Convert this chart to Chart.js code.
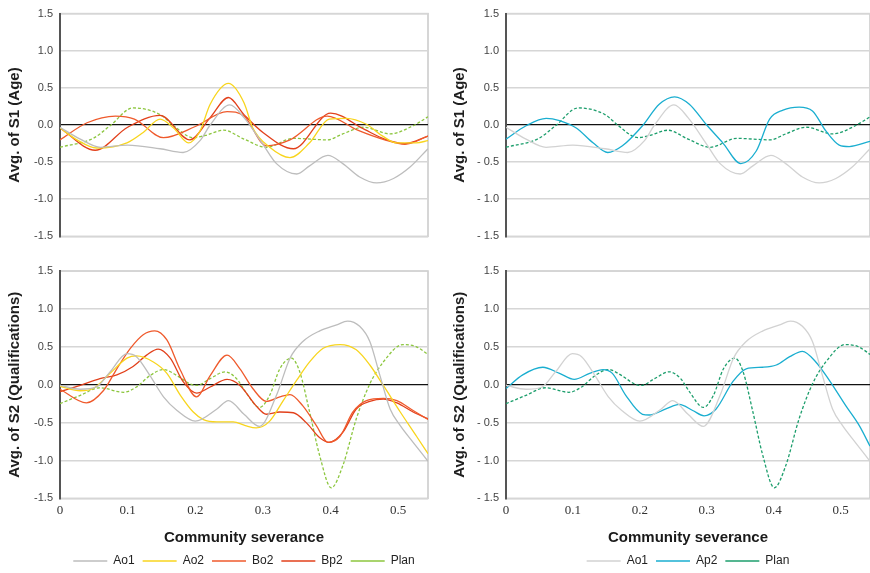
<!DOCTYPE html>
<html>
<head>
<meta charset="utf-8">
<script src="https://cdn.jsdelivr.net/npm/chart.js@4.4.0/dist/chart.umd.min.js"></script>
<style>
body { margin: 0; background: #fff; }
#page { position: relative; width: 870px; height: 573px; overflow: hidden; }
.box { position: absolute; }
</style>
</head>
<body>
<div id="page">
  <div class="box" style="left:0;top:0;width:435px;height:250px"><canvas id="ageLeft"></canvas></div>
  <div class="box" style="left:435px;top:0;width:435px;height:250px"><canvas id="ageRight"></canvas></div>
  <div class="box" style="left:0;top:250px;width:435px;height:323px"><canvas id="qualLeft"></canvas></div>
  <div class="box" style="left:435px;top:250px;width:435px;height:323px"><canvas id="qualRight"></canvas></div>
</div>
<script>
// x = community severance, y = average score
const xMax = 0.544;
const yTicks = [-1.5, -1.0, -0.5, 0.0, 0.5, 1.0, 1.5];

// S1 (Age)
const ageAo1X = [0, 0.03, 0.06, 0.10, 0.148, 0.182, 0.207, 0.222, 0.251, 0.272, 0.30, 0.32, 0.35, 0.369, 0.396, 0.418, 0.443, 0.468, 0.493, 0.517, 0.544];
const ageAo1Y = [-0.03, -0.19, -0.30, -0.27, -0.32, -0.37, -0.21, 0.0, 0.27, 0.10, -0.26, -0.52, -0.66, -0.55, -0.41, -0.52, -0.70, -0.78, -0.72, -0.57, -0.32];
const ageAo2X = [0, 0.025, 0.054, 0.099, 0.123, 0.148, 0.168, 0.19, 0.207, 0.222, 0.249, 0.272, 0.285, 0.31, 0.34, 0.369, 0.398, 0.423, 0.453, 0.477, 0.497, 0.527, 0.544];
const ageAo2Y = [-0.04, -0.20, -0.31, -0.24, -0.10, 0.08, -0.04, -0.24, -0.08, 0.28, 0.56, 0.30, -0.04, -0.30, -0.44, -0.24, 0.08, 0.09, 0.01, -0.15, -0.24, -0.24, -0.21];
const ageBo2X = [0, 0.04, 0.082, 0.11, 0.153, 0.2, 0.247, 0.272, 0.305, 0.34, 0.395, 0.44, 0.48, 0.51, 0.544];
const ageBo2Y = [-0.20, 0.03, 0.12, 0.08, -0.17, -0.02, 0.18, 0.12, -0.28, -0.20, 0.12, -0.07, -0.20, -0.26, -0.15];
const ageBp2X = [0, 0.052, 0.10, 0.148, 0.192, 0.222, 0.249, 0.272, 0.30, 0.345, 0.40, 0.45, 0.48, 0.51, 0.544];
const ageBp2Y = [-0.04, -0.34, -0.03, 0.13, -0.20, 0.10, 0.37, 0.14, -0.10, -0.32, 0.16, -0.06, -0.19, -0.25, -0.15];
const agePlanX = [0, 0.049, 0.074, 0.108, 0.148, 0.168, 0.197, 0.215, 0.242, 0.272, 0.305, 0.345, 0.395, 0.418, 0.449, 0.488, 0.522, 0.544];
const agePlanY = [-0.30, -0.18, -0.01, 0.23, 0.14, -0.01, -0.17, -0.14, -0.07, -0.19, -0.30, -0.18, -0.20, -0.12, -0.03, -0.12, -0.01, 0.11];
const ageAp2X = [0, 0.03, 0.06, 0.08, 0.105, 0.13, 0.152, 0.174, 0.204, 0.229, 0.252, 0.274, 0.299, 0.324, 0.351, 0.374, 0.394, 0.414, 0.438, 0.458, 0.478, 0.498, 0.513, 0.544];
const ageAp2Y = [-0.19, -0.01, 0.09, 0.06, -0.04, -0.24, -0.37, -0.28, -0.01, 0.28, 0.38, 0.28, 0.01, -0.24, -0.52, -0.35, 0.08, 0.20, 0.24, 0.19, -0.08, -0.27, -0.29, -0.22];

// S2 (Qualifications)
const qualAo1X = [0, 0.03, 0.054, 0.074, 0.099, 0.113, 0.133, 0.153, 0.173, 0.20, 0.232, 0.249, 0.272, 0.295, 0.32, 0.34, 0.359, 0.384, 0.409, 0.425, 0.443, 0.458, 0.473, 0.488, 0.503, 0.522, 0.544];
const qualAo1Y = [-0.01, -0.06, -0.03, 0.17, 0.41, 0.37, 0.12, -0.16, -0.34, -0.48, -0.32, -0.21, -0.39, -0.55, -0.14, 0.35, 0.57, 0.71, 0.79, 0.84, 0.77, 0.57, 0.12, -0.32, -0.54, -0.76, -1.01];
const qualAo2X = [0, 0.03, 0.049, 0.074, 0.099, 0.113, 0.138, 0.158, 0.178, 0.197, 0.212, 0.232, 0.256, 0.274, 0.29, 0.31, 0.33, 0.35, 0.369, 0.389, 0.414, 0.438, 0.458, 0.478, 0.503, 0.527, 0.544];
const qualAo2Y = [-0.02, -0.08, -0.05, 0.15, 0.35, 0.38, 0.30, 0.15, -0.14, -0.36, -0.46, -0.49, -0.49, -0.54, -0.57, -0.48, -0.21, 0.06, 0.30, 0.48, 0.53, 0.46, 0.26, -0.01, -0.36, -0.68, -0.91];
const qualBo2X = [0, 0.039, 0.064, 0.084, 0.104, 0.123, 0.14, 0.158, 0.178, 0.202, 0.222, 0.247, 0.266, 0.285, 0.305, 0.325, 0.34, 0.359, 0.379, 0.396, 0.414, 0.433, 0.453, 0.478, 0.498, 0.522, 0.544];
const qualBo2Y = [-0.06, -0.24, -0.08, 0.21, 0.48, 0.66, 0.71, 0.59, 0.19, -0.16, 0.12, 0.39, 0.21, -0.05, -0.22, -0.16, -0.13, -0.28, -0.54, -0.76, -0.68, -0.36, -0.21, -0.18, -0.21, -0.34, -0.46];
const qualBp2X = [0, 0.03, 0.059, 0.084, 0.108, 0.128, 0.145, 0.163, 0.182, 0.202, 0.222, 0.247, 0.266, 0.29, 0.305, 0.325, 0.345, 0.364, 0.384, 0.398, 0.418, 0.438, 0.458, 0.478, 0.498, 0.522, 0.544];
const qualBp2Y = [-0.09, -0.01, 0.08, 0.13, 0.24, 0.39, 0.47, 0.35, 0.04, -0.11, -0.03, 0.07, -0.01, -0.28, -0.39, -0.36, -0.37, -0.50, -0.70, -0.76, -0.63, -0.32, -0.22, -0.19, -0.24, -0.36, -0.45];
const qualPlanX = [0, 0.03, 0.059, 0.094, 0.113, 0.133, 0.153, 0.173, 0.192, 0.202, 0.222, 0.244, 0.261, 0.274, 0.295, 0.31, 0.325, 0.342, 0.354, 0.369, 0.384, 0.401, 0.418, 0.438, 0.458, 0.478, 0.507, 0.527, 0.544];
const qualPlanY = [-0.25, -0.14, -0.04, -0.10, -0.03, 0.12, 0.20, 0.12, 0.01, -0.01, 0.08, 0.17, 0.08, -0.09, -0.30, -0.14, 0.21, 0.35, 0.18, -0.36, -0.94, -1.36, -1.07, -0.45, 0.01, 0.30, 0.53, 0.50, 0.40];
const qualAp2X = [0, 0.025, 0.055, 0.08, 0.102, 0.125, 0.145, 0.159, 0.179, 0.204, 0.214, 0.239, 0.259, 0.279, 0.296, 0.314, 0.339, 0.359, 0.384, 0.404, 0.424, 0.443, 0.463, 0.483, 0.508, 0.528, 0.544];
const qualAp2Y = [-0.05, 0.13, 0.23, 0.15, 0.07, 0.15, 0.20, 0.15, -0.14, -0.39, -0.40, -0.32, -0.26, -0.34, -0.41, -0.32, 0.04, 0.21, 0.23, 0.26, 0.37, 0.44, 0.30, 0.06, -0.28, -0.54, -0.81];

const SANS = "'Liberation Sans', Arial, sans-serif";

function pts(xs, ys) {
    return xs.map((x, i) => ({ x: x, y: ys[i] }));
}

function line(label, xs, ys, color, dashed) {
    return {
        label: label,
        data: pts(xs, ys),
        borderColor: color,
        backgroundColor: color,
        borderWidth: 1.3,
        borderDash: dashed ? [3, 2] : [],
        pointRadius: 0,
        cubicInterpolationMode: 'monotone',
        fill: false
    };
}

// light frame round the plot area, drawn under grid and axis
const frame = {
    id: 'frame',
    beforeDraw(chart) {
        const a = chart.chartArea;
        const c = chart.ctx;
        c.save();
        c.strokeStyle = '#c9c9c9';
        c.lineWidth = 1.5;
        c.strokeRect(a.left, a.top, a.right - a.left, a.bottom - a.top);
        c.restore();
    }
};

function makeChart(id, datasets, cfg) {
    const ctx = document.getElementById(id).getContext('2d');
    return new Chart(ctx, {
        type: 'line',
        data: { datasets: datasets },
        plugins: [frame],
        options: {
            responsive: true,
            maintainAspectRatio: false,
            animation: false,
            layout: { padding: { top: cfg.bottom ? 21 : 11, right: cfg.right, bottom: cfg.bottom ? -4 : 12, left: 0 } },
            plugins: {
                tooltip: { enabled: false },
                legend: {
                    display: cfg.bottom,
                    position: 'bottom',
                    fullSize: false,
                    labels: {
                        usePointStyle: true,
                        pointStyle: 'line',
                        pointStyleWidth: 34,
                        boxHeight: 8,
                        padding: 8,
                        color: '#222',
                        font: { family: SANS, size: 12 }
                    }
                }
            },
            scales: {
                x: {
                    type: 'linear',
                    min: 0,
                    max: xMax,
                    grid: { display: false, drawTicks: false, tickLength: 0 },
                    border: { display: false },
                    ticks: {
                        display: cfg.bottom,
                        stepSize: 0.1,
                        includeBounds: false,
                        autoSkip: false,
                        maxRotation: 0,
                        padding: 4,
                        color: '#333',
                        font: { family: "'Liberation Serif', serif", size: 13 },
                        callback: v => (Math.abs(v) < 1e-9 ? '0' : v.toFixed(1))
                    },
                    title: {
                        display: cfg.bottom,
                        text: 'Community severance',
                        color: '#1a1a1a',
                        padding: { top: 7, bottom: 0 },
                        font: { family: SANS, size: 15, weight: 'bold' }
                    }
                },
                y: {
                    min: -1.5,
                    max: 1.5,
                    afterFit: s => { s.width = cfg.axisWidth; },
                    afterBuildTicks: s => { s.ticks = yTicks.map(v => ({ value: v })); },
                    grid: {
                        drawTicks: false,
                        color: c => (c.tick && c.tick.value === 0 ? '#111' : '#d6d6d6'),
                        lineWidth: c => (c.tick && c.tick.value === 0 ? 1.3 : 1.6)
                    },
                    border: { color: '#555', width: 2 },
                    ticks: {
                        padding: 7,
                        color: '#444',
                        font: { family: SANS, size: 11 },
                        callback: v => (cfg.spaced && v < 0 ? '- ' + Math.abs(v).toFixed(1) : v.toFixed(1))
                    },
                    title: {
                        display: true,
                        text: cfg.yTitle,
                        color: '#1e1e1e',
                        padding: { top: cfg.titlePad, bottom: 0 },
                        font: { family: SANS, size: 15, weight: 'bold' }
                    }
                }
            }
        }
    });
}

const greyL = '#bdbdbd';
const greyR = '#d2d2d2';
const yellow = '#f8d51e';
const orange = '#ef5a2c';
const red = '#e2401b';
const planL = '#8cc63e';
const planR = '#1c9e6c';
const blue = '#1aaed0';

makeChart('ageLeft', [
    line('Ao1', ageAo1X, ageAo1Y, greyL),
    line('Ao2', ageAo2X, ageAo2Y, yellow),
    line('Bo2', ageBo2X, ageBo2Y, orange),
    line('Bp2', ageBp2X, ageBp2Y, red),
    line('Plan', agePlanX, agePlanY, planL, true)
], { yTitle: 'Avg. of S1 (Age)', axisWidth: 60, titlePad: 6, right: 7, bottom: false, spaced: false });

makeChart('ageRight', [
    line('Ao1', ageAo1X, ageAo1Y, greyR),
    line('Ap2', ageAp2X, ageAp2Y, blue),
    line('Plan', agePlanX, agePlanY, planR, true)
], { yTitle: 'Avg. of S1 (Age)', axisWidth: 71, titlePad: 16, right: 0, bottom: false, spaced: true });

makeChart('qualLeft', [
    line('Ao1', qualAo1X, qualAo1Y, greyL),
    line('Ao2', qualAo2X, qualAo2Y, yellow),
    line('Bo2', qualBo2X, qualBo2Y, orange),
    line('Bp2', qualBp2X, qualBp2Y, red),
    line('Plan', qualPlanX, qualPlanY, planL, true)
], { yTitle: 'Avg. of S2 (Qualifications)', axisWidth: 60, titlePad: 6, right: 7, bottom: true, spaced: false });

makeChart('qualRight', [
    line('Ao1', qualAo1X, qualAo1Y, greyR),
    line('Ap2', qualAp2X, qualAp2Y, blue),
    line('Plan', qualPlanX, qualPlanY, planR, true)
], { yTitle: 'Avg. of S2 (Qualifications)', axisWidth: 71, titlePad: 16, right: 0, bottom: true, spaced: true });
</script>
</body>
</html>
